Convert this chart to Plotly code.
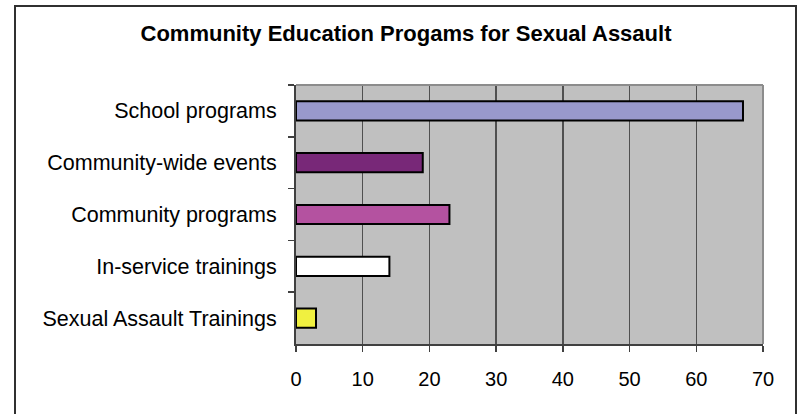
import plotly.graph_objects as go

categories = ["School programs", "Community-wide events", "Community programs",
              "In-service trainings", "Sexual Assault Trainings"]
values = [67, 19, 23, 14, 3]
bar_colors = ["#9999CC", "#782878", "#B452A0", "#FFFFFF", "#F0F040"]
x_ticks = [0, 10, 20, 30, 40, 50, 60, 70]
title_text = "Community Education Progams for Sexual Assault"

W, H = 802, 414
L, R, T, B = 296, 763, 85, 344  # plot area in pixels


def px_x(x):
    return (x - L) / (R - L)


def px_y(y):
    return (B - y) / (B - T)


fig = go.Figure(go.Bar(
    y=categories, x=values, orientation="h",
    marker=dict(color=bar_colors, line=dict(color="#000000", width=2)),
    width=0.37,
))

font = "Liberation Sans, Arial, sans-serif"

fig.update_layout(
    width=W, height=H,
    margin=dict(l=L, r=W - R, t=T, b=H - B, pad=0),
    paper_bgcolor="white",
    plot_bgcolor="#C0C0C0",
    showlegend=False,
    title=dict(text="<b>" + title_text + "</b>", x=px_x(406), xref="paper",
               xanchor="center", y=1 - 33 / H, yanchor="middle",
               font=dict(family=font, size=22, color="#000000")),
    xaxis=dict(range=[0, 70], tickvals=x_ticks, showgrid=True,
               gridcolor="#505050", gridwidth=1.5, zeroline=False,
               showline=True, linecolor="#404040", linewidth=2,
               ticks="outside", ticklen=6, tickcolor="#404040", tickwidth=1.5,
               tickfont=dict(family=font, size=20, color="#000000"),
               ticklabelstandoff=10, fixedrange=True),
    yaxis=dict(autorange="reversed", showgrid=False, zeroline=False,
               showline=True, linecolor="#404040", linewidth=2,
               ticks="outside", ticklen=6, tickcolor="#404040", tickwidth=1.5,
               tickson="boundaries",
               tickfont=dict(family=font, size=21.5, color="#000000"),
               ticklabelstandoff=13, fixedrange=True),
    shapes=[
        # plot area top and right edges (grey)
        dict(type="line", xref="paper", yref="paper", x0=0, x1=1, y0=1, y1=1,
             line=dict(color="#8C8C8C", width=2), layer="above"),
        dict(type="line", xref="paper", yref="paper", x0=1, x1=1, y0=0, y1=1,
             line=dict(color="#8C8C8C", width=2), layer="above"),
        # outer chart frame
        dict(type="rect", xref="paper", yref="paper",
             x0=px_x(15), x1=px_x(796), y0=px_y(430), y1=px_y(6),
             line=dict(color="#303030", width=2), fillcolor="rgba(0,0,0,0)",
             layer="above"),
    ],
)

fig.write_html("out.html",
               config={"displayModeBar": False, "staticPlot": True},
               post_script="document.body.style.margin='0';"
                           "document.body.style.overflow='hidden';")
